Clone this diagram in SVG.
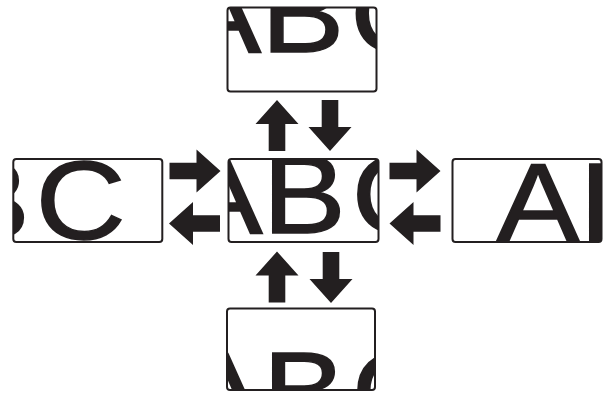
<svg xmlns="http://www.w3.org/2000/svg" xmlns:xlink="http://www.w3.org/1999/xlink" width="612" height="393" viewBox="0 0 612 393">
<style>
.box{fill:none;stroke:#231f20;stroke-width:2}
.big{font-family:"Liberation Sans",Arial,sans-serif;font-size:112px;fill:#231f20;stroke:#231f20;stroke-width:1.4}
.arr{fill:#231f20}
</style>
<defs>
<polygon id="arrow" points="0,-8.3 27,-8.3 27,-21.5 51,0 27,21.5 27,8.3 0,8.3"/>
<clipPath id="cTop"><rect x="227.5" y="7.5" width="149" height="84" rx="3"/></clipPath>
<clipPath id="cCenter"><rect x="228.5" y="159" width="150" height="83" rx="3"/></clipPath>
<clipPath id="cLeft"><rect x="13.3" y="159" width="149" height="83" rx="3"/></clipPath>
<clipPath id="cRight"><rect x="452.5" y="159" width="149" height="83" rx="3"/></clipPath>
<clipPath id="cBottom"><rect x="227" y="308.5" width="148" height="81.5" rx="3"/></clipPath>
</defs>
<rect width="612" height="393" fill="#fff"/>
<g id="top">
<g clip-path="url(#cTop)"><text class="big" transform="translate(261,52) scale(1.116 1)" x="-74.7 0 79.7">ABC</text></g>
<rect class="box" x="227.5" y="7.5" width="149" height="84" rx="3"/>
</g>
<g id="center">
<g clip-path="url(#cCenter)"><text class="big" transform="translate(262.6,233) scale(1.116 1)" x="-74.7 0 79.7">ABC</text></g>
<rect class="box" x="228.5" y="159" width="150" height="83" rx="3"/>
</g>
<g id="left">
<g clip-path="url(#cLeft)"><text class="big" transform="translate(-53.5,239.4) scale(1.116 1)" x="-74.7 0 79.7">ABC</text></g>
<rect class="box" x="13.3" y="159" width="149" height="83" rx="3"/>
</g>
<g id="right">
<g clip-path="url(#cRight)"><text class="big" transform="translate(579.5,240.5) scale(1.116 1)" x="-74.7 0 79.7">ABC</text></g>
<rect class="box" x="452.5" y="159" width="149" height="83" rx="3"/>
</g>
<g id="bottom">
<g clip-path="url(#cBottom)"><text class="big" transform="translate(262.6,430) scale(1.116 1)" x="-74.7 0 79.7">ABC</text></g>
<rect class="box" x="227" y="308.5" width="148" height="81.5" rx="3"/>
</g>
<g id="connectors" class="arr">
<use xlink:href="#arrow" transform="translate(169.5,171)"/>
<use xlink:href="#arrow" transform="translate(220,223.5) rotate(180)"/>
<use xlink:href="#arrow" transform="translate(389.5,171)"/>
<use xlink:href="#arrow" transform="translate(440.5,223.5) rotate(180)"/>
<use xlink:href="#arrow" transform="translate(277,151) rotate(-90)"/>
<use xlink:href="#arrow" transform="translate(330,100) rotate(90)"/>
<use xlink:href="#arrow" transform="translate(277,302.5) rotate(-90)"/>
<use xlink:href="#arrow" transform="translate(331,252) rotate(90)"/>
</g>
</svg>
